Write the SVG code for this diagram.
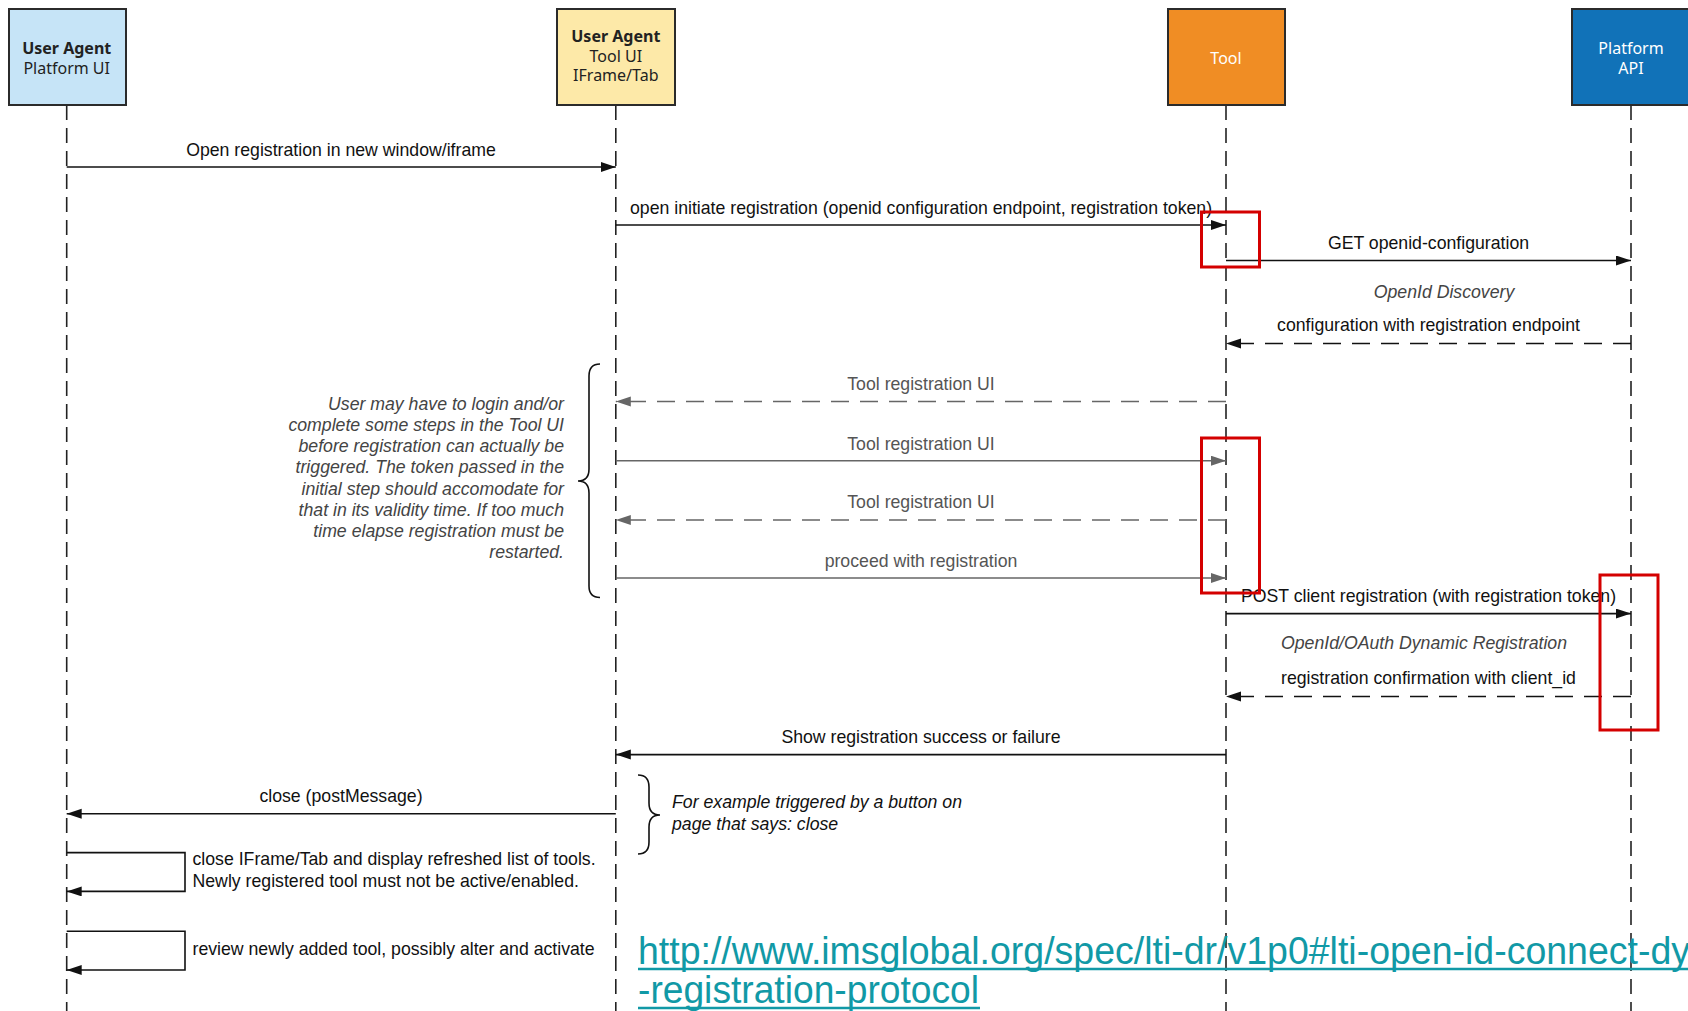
<svg xmlns="http://www.w3.org/2000/svg" width="1688" height="1011" viewBox="0 0 1688 1011">
<defs>
<style>
.box{stroke:#2b2b2b;stroke-width:2}
.bt{font-family:"Noto Sans","DejaVu Sans",sans-serif;font-size:16px;text-anchor:middle;fill:#222}
.bb{font-weight:bold}
.life{stroke:#222;stroke-width:1.6;stroke-dasharray:15 8;fill:none}
.msg{stroke:#111;stroke-width:1.6;fill:none}
.gmsg{stroke:#666;stroke-width:1.6;fill:none}
.dash{stroke-dasharray:18 11}
.lbl{font-family:"Liberation Sans",Arial,sans-serif;font-size:17.7px;text-anchor:middle;fill:#111}
.lbs{font-family:"Liberation Sans",Arial,sans-serif;font-size:17.7px;text-anchor:start;fill:#111}
.glbl{fill:#555}
.it{font-family:"Liberation Sans",Arial,sans-serif;font-size:17.7px;font-style:italic;fill:#444}
.itc{text-anchor:middle}
.ite{text-anchor:end}
.red{fill:none;stroke:#d40000;stroke-width:3}
.url{font-family:"Liberation Sans",Arial,sans-serif;font-size:38px;fill:#1199a6}
</style>
<marker id="ah" markerUnits="userSpaceOnUse" markerWidth="16" markerHeight="12" refX="15" refY="5" orient="auto">
<path d="M0,0 L15,5 L0,10 z" fill="#111"/>
</marker>
<marker id="gah" markerUnits="userSpaceOnUse" markerWidth="16" markerHeight="12" refX="15" refY="5" orient="auto">
<path d="M0,0 L15,5 L0,10 z" fill="#666"/>
</marker>
</defs>
<rect width="1688" height="1011" fill="#ffffff"/>

<g id="lifelines">
<line class="life" x1="66.7" y1="105" x2="66.7" y2="1011"/>
<line class="life" x1="615.8" y1="105" x2="615.8" y2="1011"/>
<line class="life" x1="1226" y1="105" x2="1226" y2="1011"/>
<line class="life" x1="1631" y1="105" x2="1631" y2="1011"/>
</g>

<g id="node-platform-ui">
<rect class="box" x="9" y="9" width="117" height="96" fill="#c6e4f7"/>
<text class="bt bb" x="66.7" y="54">User Agent</text>
<text class="bt" x="66.7" y="74">Platform UI</text>
</g>
<g id="node-tool-ui">
<rect class="box" x="557" y="9" width="118" height="96" fill="#fde9a8"/>
<text class="bt bb" x="615.8" y="42">User Agent</text>
<text class="bt" x="615.8" y="62">Tool UI</text>
<text class="bt" x="615.8" y="81">IFrame/Tab</text>
</g>
<g id="node-tool">
<rect class="box" x="1168" y="9" width="117" height="96" fill="#f08d24"/>
<text class="bt" x="1226" y="64" style="fill:#fff">Tool</text>
</g>
<g id="node-platform-api">
<rect class="box" x="1572" y="9" width="120" height="96" fill="#1172b8"/>
<text class="bt" x="1631" y="54" style="fill:#fff">Platform</text>
<text class="bt" x="1631" y="74" style="fill:#fff">API</text>
</g>

<g id="connectors">
<line class="msg" x1="66.7" y1="167" x2="615.8" y2="167" marker-end="url(#ah)"/>
<line class="msg" x1="615.8" y1="225" x2="1226" y2="225" marker-end="url(#ah)"/>
<line class="msg" x1="1226" y1="260.5" x2="1631" y2="260.5" marker-end="url(#ah)"/>
<line class="msg dash" x1="1631" y1="343.5" x2="1226" y2="343.5" marker-end="url(#ah)"/>
<line class="gmsg dash" x1="1226" y1="401.5" x2="615.8" y2="401.5" marker-end="url(#gah)"/>
<line class="gmsg" x1="615.8" y1="460.7" x2="1226" y2="460.7" marker-end="url(#gah)"/>
<line class="gmsg dash" x1="1226" y1="520" x2="615.8" y2="520" marker-end="url(#gah)"/>
<line class="gmsg" x1="615.8" y1="578" x2="1226" y2="578" marker-end="url(#gah)"/>
<line class="msg" x1="1226" y1="613.6" x2="1631" y2="613.6" marker-end="url(#ah)"/>
<line class="msg dash" x1="1631" y1="696.5" x2="1226" y2="696.5" marker-end="url(#ah)"/>
<line class="msg" x1="1226" y1="754.6" x2="615.8" y2="754.6" marker-end="url(#ah)"/>
<line class="msg" x1="615.8" y1="813.8" x2="66.7" y2="813.8" marker-end="url(#ah)"/>
<polyline class="msg" points="66.7,852.6 185,852.6 185,891.4 66.7,891.4" marker-end="url(#ah)"/>
<polyline class="msg" points="66.7,931.2 185,931.2 185,970 66.7,970" marker-end="url(#ah)"/>
</g>

<g id="labels">
<text class="lbl" x="341" y="155.5">Open registration in new window/iframe</text>
<text class="lbl" x="921" y="213.5">open initiate registration (openid configuration endpoint, registration token)</text>
<text class="lbl" x="1428.5" y="249">GET openid-configuration</text>
<text class="it itc" x="1444" y="298">OpenId Discovery</text>
<text class="lbl" x="1428.5" y="331">configuration with registration endpoint</text>
<text class="lbl glbl" x="921" y="390">Tool registration UI</text>
<text class="lbl glbl" x="921" y="449.5">Tool registration UI</text>
<text class="lbl glbl" x="921" y="507.5">Tool registration UI</text>
<text class="lbl glbl" x="921" y="566.5">proceed with registration</text>
<text class="lbl" x="1428.5" y="602">POST client registration (with registration token)</text>
<text class="it itc" x="1424" y="649">OpenId/OAuth Dynamic Registration</text>
<text class="lbl" x="1428.5" y="684">registration confirmation with client_id</text>
<text class="lbl" x="921" y="743">Show registration success or failure</text>
<text class="lbl" x="341" y="802">close (postMessage)</text>
<text class="lbs" x="192.5" y="865">close IFrame/Tab and display refreshed list of tools.</text>
<text class="lbs" x="192.5" y="887">Newly registered tool must not be active/enabled.</text>
<text class="lbs" x="192.5" y="954.5">review newly added tool, possibly alter and activate</text>
</g>

<g id="note-login">
<path d="M600,364 Q589,364 589,376 L589,469 Q589,481 578,481 Q589,481 589,493 L589,586 Q589,597.5 600,597.5" fill="none" stroke="#111" stroke-width="1.6"/>
<text class="it ite" x="564" y="410">User may have to login and/or</text>
<text class="it ite" x="564" y="431">complete some steps in the Tool UI</text>
<text class="it ite" x="564" y="452">before registration can actually be</text>
<text class="it ite" x="564" y="473">triggered. The token passed in the</text>
<text class="it ite" x="564" y="495">initial step should accomodate for</text>
<text class="it ite" x="564" y="516">that in its validity time. If too much</text>
<text class="it ite" x="564" y="537">time elapse registration must be</text>
<text class="it ite" x="564" y="558">restarted.</text>
</g>

<g id="note-close">
<path d="M638,775 Q649,775 649,787 L649,803 Q649,815 660,815 Q649,815 649,827 L649,842 Q649,854 638,854" fill="none" stroke="#111" stroke-width="1.6"/>
<text class="it" x="672" y="808" style="fill:#111">For example triggered by a button on</text>
<text class="it" x="672" y="829.5" style="fill:#111">page that says: close</text>
</g>

<g id="highlights">
<rect class="red" x="1201.5" y="212" width="58" height="55"/>
<rect class="red" x="1201.5" y="438" width="58" height="155"/>
<rect class="red" x="1600" y="575" width="58" height="155"/>
</g>

<g id="link">
<text class="url" x="638" y="964" textLength="1052" lengthAdjust="spacingAndGlyphs">http://www.imsglobal.org/spec/lti-dr/v1p0#lti-open-id-connect-dy</text>
<line x1="638" y1="969" x2="1690" y2="969" stroke="#1199a6" stroke-width="2.5"/>
<text class="url" x="638" y="1003" textLength="341" lengthAdjust="spacingAndGlyphs">-registration-protocol</text>
<line x1="638" y1="1008" x2="980" y2="1008" stroke="#1199a6" stroke-width="2.5"/>
</g>
</svg>
